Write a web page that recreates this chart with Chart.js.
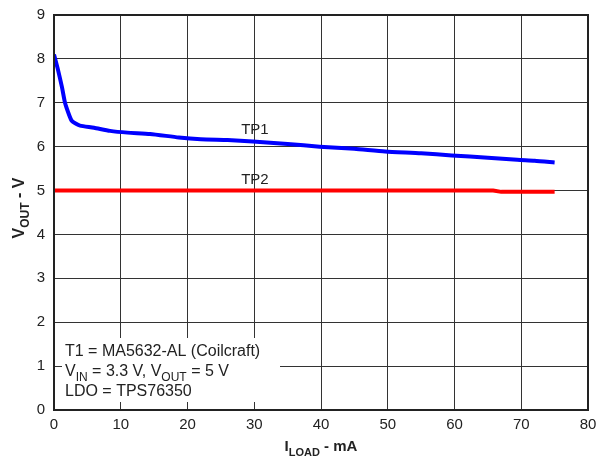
<!DOCTYPE html>
<html>
<head>
<meta charset="utf-8">
<script src="https://cdn.jsdelivr.net/npm/chart.js@4/dist/chart.umd.min.js"></script>
<style>
  body { margin: 0; background: #fff; }
  canvas { display: block; }
</style>
</head>
<body>
<canvas id="myChart" width="602" height="456"></canvas>
<script>
const tp1X = [0, 0.6, 1.2, 1.65, 2.2, 2.65, 3.3, 3.9, 6, 8.4, 11, 14.4, 18.7, 22, 26, 29.8, 35, 39.8, 45, 49.6, 55, 59.6, 65, 69.4, 72, 75]
const tp1Y = [8.1, 7.75, 7.35, 7.0, 6.75, 6.59, 6.52, 6.48, 6.43, 6.36, 6.32, 6.29, 6.21, 6.17, 6.15, 6.12, 6.06, 6.0, 5.95, 5.89, 5.85, 5.8, 5.75, 5.7, 5.68, 5.64]
const tp2X = [0, 20, 40, 60, 65.8, 67, 75]
const tp2Y = [5.0, 5.0, 5.0, 5.0, 5.0, 4.97, 4.97]
const xTicks = [0, 10, 20, 30, 40, 50, 60, 70, 80]
const yTicks = [0, 1, 2, 3, 4, 5, 6, 7, 8, 9]
const noteLines = [
  [['T1 = MA5632-AL (Coilcraft)', false]],
  [['V', false], ['IN', true], [' = 3.3 V, V', false], ['OUT', true], [' = 5 V', false]],
  [['LDO = TPS76350', false]]
]

function toPoints(xs, ys) {
  return xs.map(function (x, i) { return { x: x, y: ys[i] } })
}

// draws text pieces, subscript pieces are smaller and lower
function drawParts(ctx, parts, x, y, size, bold) {
  const w = bold ? 'bold ' : ''
  parts.forEach(function (p) {
    if (p[1]) {
      ctx.font = w + Math.round(size * 0.75) + 'px Arial'
      ctx.fillText(p[0], x, y + size * 0.3)
    } else {
      ctx.font = w + size + 'px Arial'
      ctx.fillText(p[0], x, y)
    }
    x += ctx.measureText(p[0]).width
  })
  return x
}

function partsWidth(ctx, parts, size, bold) {
  const w = bold ? 'bold ' : ''
  let total = 0
  parts.forEach(function (p) {
    ctx.font = w + (p[1] ? Math.round(size * 0.75) : size) + 'px Arial'
    total += ctx.measureText(p[0]).width
  })
  return total
}

const decorPlugin = {
  id: 'decor',
  afterDatasetsDraw: function (chart) {
    const ctx = chart.ctx
    const a = chart.chartArea
    const xs = chart.scales.x
    const ys = chart.scales.y
    ctx.save()

    // note box
    ctx.fillStyle = '#fff'
    ctx.fillRect(62, 338, 218, 64)
    ctx.fillStyle = '#222'
    ctx.textBaseline = 'alphabetic'
    noteLines.forEach(function (line, i) {
      drawParts(ctx, line, 65, 356 + i * 20, 16, false)
    })

    // series labels
    ctx.font = '15px Arial'
    ctx.textAlign = 'center'
    ctx.fillText('TP1', xs.getPixelForValue(30.1), ys.getPixelForValue(6.3))
    ctx.fillText('TP2', xs.getPixelForValue(30.1), ys.getPixelForValue(5.15))
    ctx.textAlign = 'left'

    // plot border
    ctx.strokeStyle = '#222'
    ctx.lineWidth = 2
    ctx.strokeRect(a.left, a.top, a.right - a.left, a.bottom - a.top)

    // x title
    const xt = [['I', false], ['LOAD', true], [' - mA', false]]
    const xw = partsWidth(ctx, xt, 15, true)
    drawParts(ctx, xt, (a.left + a.right) / 2 - xw / 2, 451, 15, true)

    // y title (rotated)
    const yt = [['V', false], ['OUT', true], [' - V', false]]
    const yw = partsWidth(ctx, yt, 16, true)
    ctx.translate(24, 208)
    ctx.rotate(-Math.PI / 2)
    drawParts(ctx, yt, -yw / 2, 0, 16, true)
    ctx.restore()
  }
}

window.onload = function () {
  const ctx = document.getElementById('myChart').getContext('2d')
  new Chart(ctx, {
    type: 'line',
    data: {
      datasets: [
        {
          label: 'TP1',
          data: toPoints(tp1X, tp1Y),
          borderColor: '#0000ff',
          borderWidth: 4,
          pointRadius: 0,
          tension: 0.2,
        },
        {
          label: 'TP2',
          data: toPoints(tp2X, tp2Y),
          borderColor: '#ff0000',
          borderWidth: 4,
          pointRadius: 0,
          tension: 0,
        },
      ],
    },
    options: {
      responsive: false,
      animation: false,
      layout: { padding: { top: 15, right: 14, left: 0, bottom: 0 } },
      plugins: {
        legend: { display: false },
        tooltip: { enabled: false },
      },
      scales: {
        x: {
          type: 'linear',
          min: 0,
          max: 80,
          afterBuildTicks: function (s) { s.ticks = xTicks.map(function (v) { return { value: v } }) },
          afterFit: function (s) {
            s.height = 46
            s.paddingLeft = 0
            s.paddingRight = 0
          },
          grid: { color: '#333', lineWidth: 1, drawTicks: false },
          border: { display: false },
          ticks: { color: '#222', font: { family: 'Arial', size: 15 }, padding: 6, maxRotation: 0 },
        },
        y: {
          min: 0,
          max: 9,
          afterBuildTicks: function (s) { s.ticks = yTicks.map(function (v) { return { value: v } }) },
          afterFit: function (s) {
            s.width = 54
            s.paddingTop = 0
            s.paddingBottom = 0
          },
          grid: { color: '#333', lineWidth: 1, drawTicks: false },
          border: { display: false },
          ticks: { color: '#222', font: { family: 'Arial', size: 15 }, padding: 9 },
        },
      },
    },
    plugins: [decorPlugin],
  })
}
</script>
</body>
</html>
